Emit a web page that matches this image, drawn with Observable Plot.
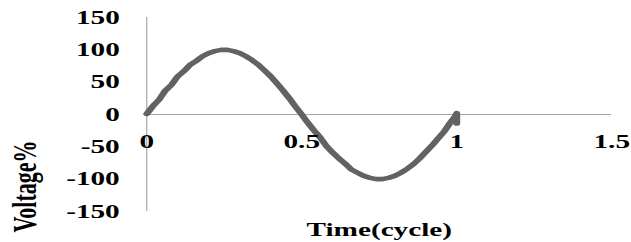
<!DOCTYPE html>
<html><head><meta charset="utf-8">
<script src="https://cdn.jsdelivr.net/npm/d3@7"></script>
<script src="https://cdn.jsdelivr.net/npm/@observablehq/plot@0.6"></script>
<style>html,body{margin:0;padding:0;background:#fff;overflow:hidden} #chart svg{display:block}</style>
</head><body><div id="chart"></div><script>
// Data
const time = [0, 0.02, 0.04, 0.06, 0.08, 0.10, 0.12, 0.14, 0.16, 0.18, 0.20, 0.22, 0.24, 0.26, 0.28, 0.30, 0.32, 0.34, 0.36, 0.38, 0.40, 0.42, 0.44, 0.46, 0.48, 0.50,
              0.52, 0.54, 0.56, 0.58, 0.60, 0.62, 0.64, 0.66, 0.68, 0.70, 0.72, 0.74, 0.76, 0.78, 0.80, 0.82, 0.84, 0.86, 0.88, 0.90, 0.92, 0.94, 0.96, 0.98, 0.995, 1.0, 1.0];
const voltage = [1, 13, 23, 37, 46, 59, 67, 77, 83, 90, 95, 98, 100, 100, 98, 95, 90, 84, 77, 68, 59, 48, 37, 25, 12, 0,
                 -13, -25, -36, -49, -59, -68, -76, -85, -90, -95, -98, -100, -100, -98, -95, -90, -84, -77, -68, -58, -48, -37, -26, -12, -3, 2, -14];
const xTicks = [0, 0.5, 1, 1.5];
const xTickLabels = ["0", "0.5", "1", "1.5"];
const yTicks = [150, 100, 50, 0, -50, -100, -150];
const xLabel = "Time(cycle)";
const yLabel = "Voltage%";

const S = 1.5;            // horizontal stretch of the original picture
const W = 631 / S;
const data = time.map((t, i) => ({t, v: voltage[i]}));

const plot = Plot.plot({
  width: W, height: 242,
  marginLeft: 146 / S, marginRight: W - 611 / S, marginTop: 17, marginBottom: 31,
  x: {domain: [0, 1.5], axis: null},
  y: {domain: [-150, 150], axis: null},
  style: {fontFamily: "'Liberation Serif', 'Times New Roman', serif", fontWeight: "bold", background: "white", color: "black", overflow: "visible"},
  marks: [
    Plot.ruleY([0], {stroke: "#a6a6a6", strokeWidth: 1.2}),
    Plot.ruleX([0], {stroke: "#a6a6a6", strokeWidth: 0.8}),
    Plot.line(data, {x: "t", y: "v", stroke: "#626262", strokeWidth: 4.6, strokeLinejoin: "round", strokeLinecap: "round"}),
    Plot.text(xTicks, {x: d => d, y: 0, text: (d, i) => xTickLabels[i], dy: 27, fontSize: 19.5, fill: "black"}),
    Plot.text(yTicks, {x: 0, y: d => d, text: d => String(d), textAnchor: "end", dx: -18, fontSize: 19.5, fill: "black"}),
    Plot.text([xLabel], {frameAnchor: "bottom", dy: 24, fontSize: 19.5, fill: "black"}),
    Plot.text([yLabel], {frameAnchor: "left", textAnchor: "middle", lineAnchor: "middle", rotate: -90, dx: -81, dy: 72, fontSize: 22, fill: "black"})
  ]
});
plot.setAttribute("width", 631);
plot.setAttribute("height", 242);
plot.setAttribute("viewBox", `0 0 ${W} 242`);
plot.setAttribute("preserveAspectRatio", "none");
plot.style.width = "631px";
plot.style.height = "242px";
document.getElementById("chart").appendChild(plot);
</script></body></html>
